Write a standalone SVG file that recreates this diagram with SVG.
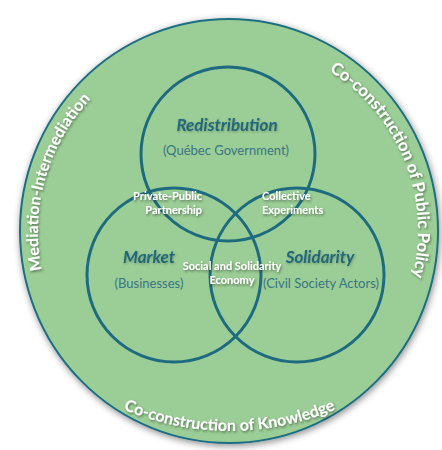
<svg xmlns="http://www.w3.org/2000/svg" xmlns:xlink="http://www.w3.org/1999/xlink" width="442" height="450" viewBox="0 0 442 450">
  <defs>
    <filter id="outerShadow" x="-10%" y="-10%" width="120%" height="120%">
      <feDropShadow dx="1" dy="2" stdDeviation="3.5" flood-color="#000" flood-opacity="0.45"/>
    </filter>
    <filter id="txtShadow" x="-10%" y="-20%" width="120%" height="140%">
      <feDropShadow dx="1" dy="1.5" stdDeviation="0.8" flood-color="#1a2a1a" flood-opacity="0.55"/>
    </filter>
    <filter id="softShadow" x="-10%" y="-20%" width="120%" height="140%">
      <feDropShadow dx="0.8" dy="1" stdDeviation="0.8" flood-color="#2a3a2a" flood-opacity="0.35"/>
    </filter>
    <path id="arcLeft" d="M 70.7,337.8 A 191 191 0 0 1 151.3,56.5"/>
    <path id="arcRight" d="M 287.4,51.3 A 189 189 0 0 1 395.9,319.7"/>
    <path id="arcBottom" d="M -4.3,296 A 270 270 0 0 0 463.3,296"/>
  </defs>
  <style>
    .venn { fill: none; stroke: #1e6b80; stroke-width: 3; }
    .title { font-family: Lato, "Liberation Sans", sans-serif; font-weight: 700; font-style: italic; font-size: 17px; fill: #22687b; text-anchor: middle; }
    .sub { font-family: Lato, "Liberation Sans", sans-serif; font-size: 13px; fill: #3a7583; text-anchor: middle; }
    .inner { font-family: Lato, "Liberation Sans", sans-serif; font-weight: 700; font-size: 11px; fill: #ffffff; }
    .curve { font-family: Lato, "Liberation Sans", sans-serif; font-weight: 700; font-size: 16px; fill: #ffffff; }
  </style>

  <g id="outer">
    <ellipse cx="229" cy="231" rx="209" ry="212" fill="#9bcd96" stroke="#1e6e82" stroke-width="2" filter="url(#outerShadow)"/>
    <text class="curve" filter="url(#txtShadow)"><textPath xlink:href="#arcLeft" href="#arcLeft" startOffset="50%" text-anchor="middle">Mediation-Intermediation</textPath></text>
    <text class="curve" style="font-size:16.6px" filter="url(#txtShadow)"><textPath xlink:href="#arcRight" href="#arcRight" startOffset="50%" text-anchor="middle">Co-construction of Public Policy</textPath></text>
    <text class="curve" filter="url(#txtShadow)"><textPath xlink:href="#arcBottom" href="#arcBottom" startOffset="50%" text-anchor="middle">Co-construction of Knowledge</textPath></text>
  </g>

  <g id="connectors"></g>

  <g id="redistribution">
    <circle class="venn" cx="228" cy="154" r="87"/>
    <text class="title" x="227" y="131" filter="url(#softShadow)">Redistribution</text>
    <text class="sub" x="226" y="155">(Québec Government)</text>
  </g>
  <g id="market">
    <circle class="venn" cx="174" cy="275" r="87"/>
    <text class="title" x="149" y="263" filter="url(#softShadow)">Market</text>
    <text class="sub" x="149" y="288">(Businesses)</text>
  </g>
  <g id="solidarity">
    <circle class="venn" cx="297" cy="275" r="87"/>
    <text class="title" x="320" y="263" filter="url(#softShadow)">Solidarity</text>
    <text class="sub" x="321" y="288">(Civil Society Actors)</text>
  </g>

  <g id="ppp">
    <text class="inner" x="202" y="200" text-anchor="end" filter="url(#txtShadow)">Private-Public</text>
    <text class="inner" x="202" y="214" text-anchor="end" filter="url(#txtShadow)">Partnership</text>
  </g>
  <g id="collective">
    <text class="inner" x="262" y="200" filter="url(#txtShadow)">Collective</text>
    <text class="inner" x="262" y="214" filter="url(#txtShadow)">Experiments</text>
  </g>
  <g id="sse">
    <text class="inner" x="232" y="270" text-anchor="middle" filter="url(#txtShadow)">Social and Solidarity</text>
    <text class="inner" x="232" y="284" text-anchor="middle" filter="url(#txtShadow)">Economy</text>
  </g>
</svg>
